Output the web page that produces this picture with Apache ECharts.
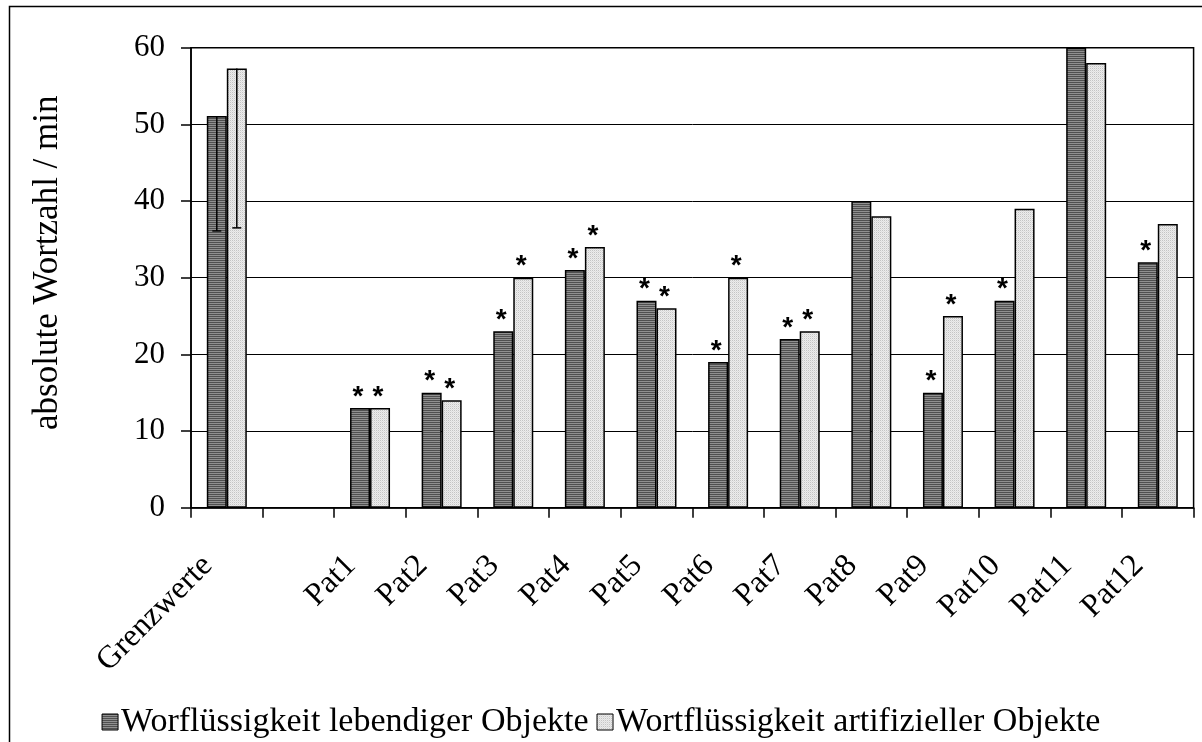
<!DOCTYPE html>
<html>
<head>
<meta charset="utf-8">
<script src="https://cdn.jsdelivr.net/npm/echarts@6/dist/echarts.min.js"></script>
<style>
  html, body { margin: 0; padding: 0; background: #fff; }
  #chart { width: 1202px; height: 742px; }
</style>
</head>
<body>
<div id="chart"></div>
<script>
// Category axis: reference group, one empty slot, then the patients
const categories = ['Grenzwerte', '', 'Pat1', 'Pat2', 'Pat3', 'Pat4', 'Pat5', 'Pat6',
    'Pat7', 'Pat8', 'Pat9', 'Pat10', 'Pat11', 'Pat12'];

const livingValues = [51.1, null, 13, 15, 23, 31, 27, 19, 22, 40, 15, 27, 60, 32];
const artificialValues = [57.3, null, 13, 14, 30, 34, 26, 30, 23, 38, 25, 39, 58, 37];

// lower end of the (one-sided) error bars on the reference bars
const livingLower = [36.1, null, null, null, null, null, null, null, null, null, null, null, null, null];
const artificialLower = [36.5, null, null, null, null, null, null, null, null, null, null, null, null, null];

// significance markers (*)
const livingStars = [0, 0, 1, 1, 1, 1, 1, 1, 1, 0, 1, 1, 0, 1];
const artificialStars = [0, 0, 1, 1, 1, 1, 1, 1, 1, 0, 1, 0, 0, 0];

const yTicks = { min: 0, max: 60, interval: 10 };

const SERIF = '"Liberation Serif", "Times New Roman", serif';
const SANS = '"Liberation Sans", Arial, sans-serif';

function makePattern(w, h, cells) {
    const c = document.createElement('canvas');
    c.width = w;
    c.height = h;
    const ctx = c.getContext('2d');
    cells.forEach(([x, y, col]) => {
        ctx.fillStyle = col;
        ctx.fillRect(x, y, 1, 1);
    });
    return { image: c, repeat: 'repeat' };
}

// horizontal stripes for the dark series
const darkPattern = makePattern(1, 2, [[0, 0, '#505050'], [0, 1, '#909090']]);
// fine dots for the light series
const lightPattern = makePattern(2, 2, [
    [0, 0, '#c4c4c4'], [1, 0, '#ececec'], [0, 1, '#ececec'], [1, 1, '#dedede']
]);

function barData(values, stars) {
    return values.map((v, i) => ({
        value: v,
        label: { show: !!stars[i] }
    }));
}

const starLabel = {
    position: 'top',
    distance: 0,
    formatter: '*',
    fontFamily: SANS,
    fontSize: 28,
    fontWeight: 'bold',
    color: '#000',
    offset: [-2, 3]
};

function errorSeries(lower, upper, offset) {
    return {
        type: 'custom',
        silent: true,
        z: 5,
        data: lower.map((lo, i) => [i, upper[i], lo]),
        renderItem: (params, api) => {
            if (api.value(2) == null || isNaN(api.value(2))) return null;
            const top = api.coord([api.value(0), api.value(1)]);
            const bottom = api.coord([api.value(0), api.value(2)]);
            const x = top[0] + offset;
            const style = { stroke: '#000', lineWidth: 1.5 };
            return {
                type: 'group',
                children: [
                    { type: 'line', shape: { x1: x, y1: top[1], x2: x, y2: bottom[1] }, style },
                    { type: 'line', shape: { x1: x - 4.5, y1: bottom[1], x2: x + 4.5, y2: bottom[1] }, style }
                ]
            };
        }
    };
}

const chart = echarts.init(document.getElementById('chart'), null, { renderer: 'canvas' });

chart.setOption({
    animation: false,
    backgroundColor: '#fff',
    textStyle: { fontFamily: SERIF, color: '#000' },
    graphic: [{
        type: 'rect',
        shape: { x: 9.5, y: 6.5, width: 1400, height: 900 },
        style: { fill: null, stroke: '#000', lineWidth: 1.5 },
        silent: true
    }],
    grid: {
        left: 191,
        right: 8.4,
        top: 47.7,
        bottom: 234.3,
        show: true,
        borderColor: '#000',
        borderWidth: 1.5
    },
    legend: {
        top: 700,
        left: 'center',
        icon: 'rect',
        itemWidth: 16,
        itemHeight: 16,
        itemGap: 8,
        itemStyle: { borderColor: '#000', borderWidth: 1 },
        textStyle: { fontFamily: SERIF, fontSize: 34, color: '#000', padding: [0, 0, 0, -2] },
        data: ['Worflüssigkeit lebendiger Objekte', 'Wortflüssigkeit artifizieller Objekte']
    },
    xAxis: {
        type: 'category',
        data: categories,
        boundaryGap: true,
        axisLine: { lineStyle: { color: '#000', width: 1.5 } },
        axisTick: { show: true, interval: 0, length: 10, lineStyle: { color: '#000', width: 1.5 } },
        axisLabel: {
            interval: 0,
            rotate: 45,
            margin: 34,
            padding: [0, 27, 0, 0],
            fontFamily: SERIF,
            fontSize: 32,
            color: '#000'
        }
    },
    yAxis: {
        type: 'value',
        min: yTicks.min,
        max: yTicks.max,
        interval: yTicks.interval,
        name: 'absolute Wortzahl / min',
        nameLocation: 'middle',
        nameGap: 126,
        nameTextStyle: { fontFamily: SERIF, fontSize: 35, color: '#000', padding: [0, 0, 0, 30] },
        axisLine: { show: true, lineStyle: { color: '#000', width: 1.5 } },
        axisTick: { show: true, length: 10, lineStyle: { color: '#000', width: 1.5 } },
        axisLabel: { margin: 26, fontFamily: SERIF, fontSize: 31, color: '#000' },
        splitLine: { show: true, lineStyle: { color: '#000', width: 1 } }
    },
    series: [
        {
            name: 'Worflüssigkeit lebendiger Objekte',
            type: 'bar',
            barWidth: 20,
            barGap: '0%',
            data: barData(livingValues, livingStars),
            itemStyle: { color: darkPattern, borderColor: '#000', borderWidth: 1.5 },
            label: starLabel
        },
        {
            name: 'Wortflüssigkeit artifizieller Objekte',
            type: 'bar',
            barWidth: 20,
            barGap: '0%',
            data: barData(artificialValues, artificialStars),
            itemStyle: { color: lightPattern, borderColor: '#000', borderWidth: 1.5 },
            label: starLabel
        },
        errorSeries(livingLower, livingValues, -10),
        errorSeries(artificialLower, artificialValues, 10)
    ]
});
</script>
</body>
</html>
